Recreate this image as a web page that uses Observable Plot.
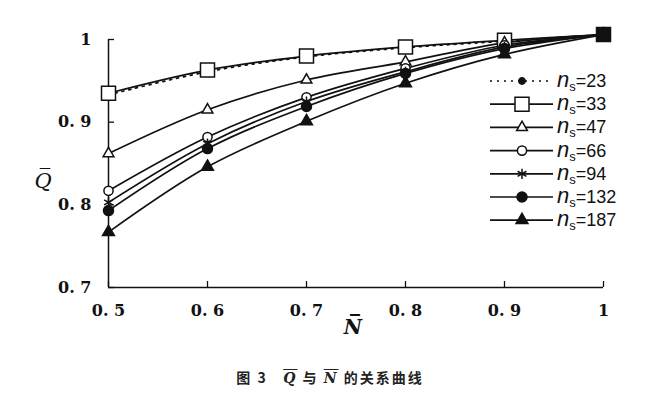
<!DOCTYPE html>
<html><head><meta charset="utf-8">
<script src="https://cdn.jsdelivr.net/npm/d3@7"></script>
<script src="https://cdn.jsdelivr.net/npm/@observablehq/plot@0.6"></script>
<style>
body{margin:0;background:#fff;width:660px;height:399px;overflow:hidden;position:relative}
#cap{position:absolute;left:0;top:367px;width:660px;text-align:center;font:bold 14px "Noto Sans CJK SC",sans-serif;color:#222;white-space:pre;letter-spacing:2px}
.ov{text-decoration:overline;font-style:italic;font-family:"DejaVu Serif",serif;font-weight:bold}
</style></head><body>
<div id="chart"></div>
<div id="cap">图 3   <span class="ov">Q</span> 与 <span class="ov">N</span> 的关系曲线</div>
<script>
// ---- data ----
const nBar = [0.5, 0.6, 0.7, 0.8, 0.9, 1.0];
const q23  = [0.933, 0.961, 0.979, 0.990, 0.998, 1.006];
const q33  = [0.935, 0.963, 0.980, 0.991, 0.999, 1.006];
const q47  = [0.862, 0.915, 0.951, 0.973, 0.996, 1.006];
const q66  = [0.817, 0.882, 0.930, 0.965, 0.993, 1.006];
const q94  = [0.803, 0.874, 0.925, 0.961, 0.991, 1.006];
const q132 = [0.793, 0.868, 0.919, 0.959, 0.989, 1.006];
const q187 = [0.767, 0.846, 0.901, 0.947, 0.982, 1.006];
const seriesNames = ["23", "33", "47", "66", "94", "132", "187"];
const seriesValues = [q23, q33, q47, q66, q94, q132, q187];
const xTicks = [0.5, 0.6, 0.7, 0.8, 0.9, 1];
const xTickLabels = ["0. 5", "0. 6", "0. 7", "0. 8", "0. 9", "1"];
const yTicks = [0.7, 0.8, 0.9, 1];
const yTickLabels = ["0. 7", "0. 8", "0. 9", "1"];
const xLabel = "N\u0305";
const yLabel = "Q\u0305";

// ---- styles ----
const ink = "#111";
const styles = {
  "23":  {symbol: "circle",   r: 3.2, fill: ink,     dash: "2,5"},
  "33":  {symbol: "square",   r: 7.9, fill: "white", dash: null},
  "47":  {symbol: "triangle", r: 4.0, fill: "white", dash: null},
  "66":  {symbol: "circle",   r: 4.6, fill: "white", dash: null},
  "94":  {symbol: "asterisk", r: 4.8, fill: "none",  dash: null},
  "132": {symbol: "circle",   r: 5.0, fill: ink,     dash: null},
  "187": {symbol: "triangle", r: 4.4, fill: ink,     dash: null}
};

const rows = [];
seriesNames.forEach((ns, k) => nBar.forEach((x, i) => rows.push({ns, x, q: seriesValues[k][i]})));

const lineMarks = seriesNames.map(ns => Plot.line(rows.filter(d => d.ns === ns), {
  x: "x", y: "q", curve: "catmull-rom", stroke: ink, strokeWidth: 1.7,
  strokeDasharray: styles[ns].dash
}));
const dotMarks = seriesNames.map(ns => Plot.dot(rows.filter(d => d.ns === ns), {
  x: "x", y: "q", symbol: () => styles[ns].symbol, r: styles[ns].r,
  fill: ns === "33" ? (d => d.x === 1 ? ink : "white") : styles[ns].fill,
  stroke: ink, strokeWidth: 1.5
}));

const tickFont = {fontSize: 16, fontWeight: "bold", fontFamily: "DejaVu Serif, serif", fill: ink};

const chart = Plot.plot({
  width: 660, height: 360,
  marginLeft: 108, marginRight: 57, marginTop: 39, marginBottom: 73,
  style: {background: "white", color: ink},
  x: {domain: [0.5, 1]},
  y: {domain: [0.7, 1]},
  marks: [
    Plot.ruleY([0.7], {stroke: ink, strokeWidth: 1.5}),
    Plot.ruleX([0.5], {stroke: ink, strokeWidth: 1.5}),
    Plot.axisX(xTicks, {tickSize: -6, tickPadding: 23, strokeWidth: 1.3,
      tickFormat: d => xTickLabels[xTicks.indexOf(d)], ...tickFont, label: null}),
    Plot.axisY(yTicks, {tickSize: -6, tickPadding: 23, strokeWidth: 1.3,
      tickFormat: d => yTickLabels[yTicks.indexOf(d)], ...tickFont, label: null}),
    ...lineMarks,
    ...dotMarks,
    Plot.text([xLabel], {text: d => d, frameAnchor: "bottom", dx: -3, dy: 46,
      fontSize: 20, fontStyle: "italic", fontWeight: "bold", fontFamily: "DejaVu Serif, serif", fill: ink}),
    Plot.text([yLabel], {text: d => d, frameAnchor: "left", dx: -74, dy: 18,
      fontSize: 21, fontStyle: "italic", fontFamily: "DejaVu Serif, serif", fill: ink})
  ]
});
document.getElementById("chart").appendChild(chart);

// ---- legend ----
const svg = d3.select(chart);
const lg = svg.append("g").attr("text-anchor", "start");
const symMap = {circle: d3.symbolCircle, square: d3.symbolSquare, triangle: d3.symbolTriangle, asterisk: d3.symbolAsterisk};
seriesNames.forEach((ns, i) => {
  const st = styles[ns];
  const y = 81 + i * 23.2;
  const g = lg.append("g").attr("transform", `translate(0,${y})`);
  g.append("line").attr("x1", 490).attr("x2", 553).attr("y1", 0).attr("y2", 0)
    .attr("stroke", ink).attr("stroke-width", 1.7).attr("stroke-dasharray", st.dash);
  g.append("path").attr("transform", "translate(522,0)")
    .attr("d", d3.symbol(symMap[st.symbol], Math.PI * st.r * st.r)())
    .attr("fill", st.fill).attr("stroke", ink).attr("stroke-width", 1.5);
  const t = g.append("text").attr("x", 557).attr("y", 6).attr("fill", ink)
    .attr("text-anchor", "start")
    .attr("font-family", "Liberation Sans, Arial, sans-serif");
  t.append("tspan").attr("font-size", 22).attr("font-style", "italic").text("n");
  t.append("tspan").attr("font-size", 13).attr("dy", 4).text("s");
  t.append("tspan").attr("font-size", 18).attr("dy", -4).text("=" + ns);
});
</script>
</body></html>
